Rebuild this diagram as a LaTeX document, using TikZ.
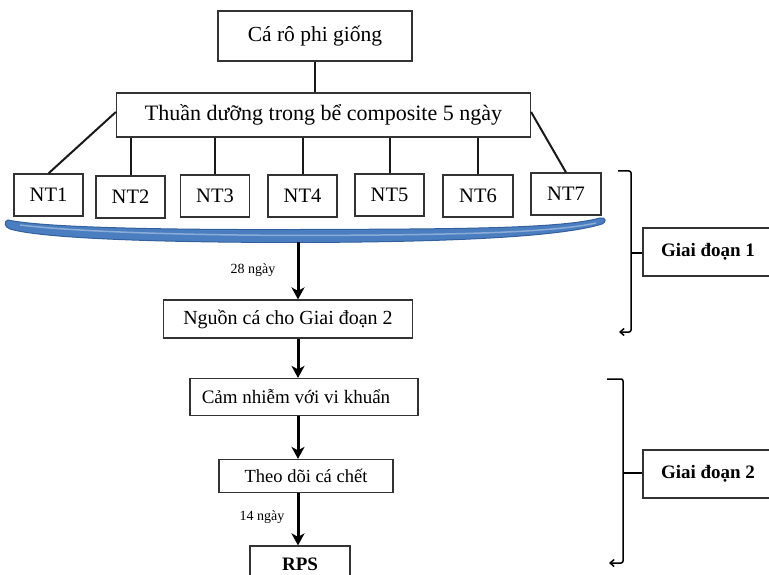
\documentclass[tikz,border=0pt]{standalone}
\usepackage{fontspec}
\setmainfont{Liberation Serif}
\usetikzlibrary{arrows.meta}
\definecolor{bandblue}{HTML}{4A7EC0}
\definecolor{banddark}{HTML}{34609E}
\tikzset{
  box/.style={draw=black!80, line width=1.2pt, inner sep=0pt, align=center, text=black},
  ntbox/.style={box, minimum width=69pt, minimum height=42pt, font=\fontsize{20.5}{22}\selectfont},
  flowarrow/.style={line width=3pt, -{Stealth[length=12pt,width=13pt,inset=3.5pt]}},
  link/.style={line width=2pt, black!90},
  bracket/.style={line width=1.5pt, rounded corners=2pt},
  smalllabel/.style={font=\fontsize{14}{16}\selectfont, inner sep=0pt}
}
\begin{document}
\begin{tikzpicture}[x=1pt,y=-1pt]
\useasboundingbox (0,0) rectangle (769,575);
\clip (0,0) rectangle (769,575);
% top boxes
\node[box, minimum width=194pt, minimum height=50pt, font=\fontsize{21.5}{24}\selectfont] (ca) at (315,36) {Cá rô phi giống};
\node[box, minimum width=414pt, minimum height=44pt, font=\fontsize{22}{24}\selectfont] (thuan) at (323.5,115) {Thuần dưỡng trong bể composite 5 ngày};
\draw[link] (ca.south) -- (ca.south |- thuan.north);
% NT boxes
\node[ntbox, minimum width=69pt] (nt1) at (48.5,195) {NT1};
\node[ntbox] (nt2) at (130.5,197) {NT2};
\node[ntbox] (nt3) at (215,196) {NT3};
\node[ntbox] (nt4) at (302.5,196) {NT4};
\node[ntbox] (nt5) at (389.5,195) {NT5};
\node[ntbox, minimum width=70pt] (nt6) at (478,196) {NT6};
\node[ntbox, minimum width=70pt] (nt7) at (566,194) {NT7};
\draw[link] ([yshift=3pt]thuan.west) -- (nt1.north);
\draw[link] ([yshift=3pt]thuan.east) -- (nt7.north);
\foreach \n in {nt2,nt3,nt4,nt5,nt6}
  \draw[link] (\n.north) -- (\n.north |- thuan.south);
% blue band
\fill[bandblue, draw=banddark, line width=1pt]
  (8,220) .. controls (40,227) and (150,230) .. (300,229.5)
  .. controls (450,229) and (560,229) .. (600,218)
  .. controls (606,217) and (607,222) .. (602,224)
  .. controls (560,237) and (450,242) .. (300,242.5)
  .. controls (150,242.5) and (40,238) .. (10,229)
  .. controls (4,227) and (4,221) .. (8,220) -- cycle;
\draw[white!60!bandblue, line width=1.5pt, opacity=0.6]
  (20,225) .. controls (60,230) and (150,235) .. (300,235.5)
  .. controls (450,235) and (550,233) .. (596,223);
\coordinate (bandmid) at (298,242);
% lower flow
\node[box, minimum width=249pt, minimum height=38pt, font=\fontsize{20}{22}\selectfont] (nguon) at (288,319) {Nguồn cá cho Giai đoạn 2};
\node[box, minimum width=228pt, minimum height=37pt, font=\fontsize{19}{22}\selectfont] (cam) at (304,397) {\hspace*{-16pt}Cảm nhiễm với vi khuẩn};
\node[box, minimum width=174pt, minimum height=33pt, font=\fontsize{18.5}{21}\selectfont] (theo) at (306,476) {Theo dõi cá chết};
\node[box, minimum width=100pt, minimum height=40pt, font=\bfseries\fontsize{19}{22}\selectfont] (rps) at (300,566) {\raisebox{4pt}{RPS}};
\draw[flowarrow] (bandmid) -- (bandmid |- nguon.north);
\draw[flowarrow] (bandmid |- nguon.south) -- (bandmid |- cam.north);
\draw[flowarrow] (bandmid |- cam.south) -- (bandmid |- theo.north);
\draw[flowarrow] (bandmid |- theo.south) -- (bandmid |- rps.north);
\node[smalllabel] (d28) at (253,270) {28 ngày};
\node[smalllabel] (d14) at (262,517) {14 ngày};
% stage boxes
\node[box, minimum width=134pt, minimum height=48pt, font=\bfseries\fontsize{19}{22}\selectfont] (g1) at (710,252) {\hspace*{-4pt}Giai đoạn 1};
\node[box, minimum width=134pt, minimum height=48pt, font=\bfseries\fontsize{19}{22}\selectfont] (g2) at (710,474) {\hspace*{-4pt}Giai đoạn 2};
% brackets
\coordinate (b1a) at (618,171);
\coordinate (b1m) at (631,253);
\coordinate (b1b) at (619,332);
\draw[bracket, -{Straight Barb[length=4pt,width=7pt]}] (b1a) -- (631,171) -- (631,332) -- (b1b);
\draw[bracket] (b1m) -- (g1.west |- b1m);
\coordinate (b2a) at (607,379);
\coordinate (b2m) at (623,473);
\coordinate (b2b) at (609,563);
\draw[bracket, -{Straight Barb[length=4pt,width=7pt]}] (b2a) -- (623,379) -- (623,563) -- (b2b);
\draw[bracket] (b2m) -- (g2.west |- b2m);
\end{tikzpicture}
\end{document}
